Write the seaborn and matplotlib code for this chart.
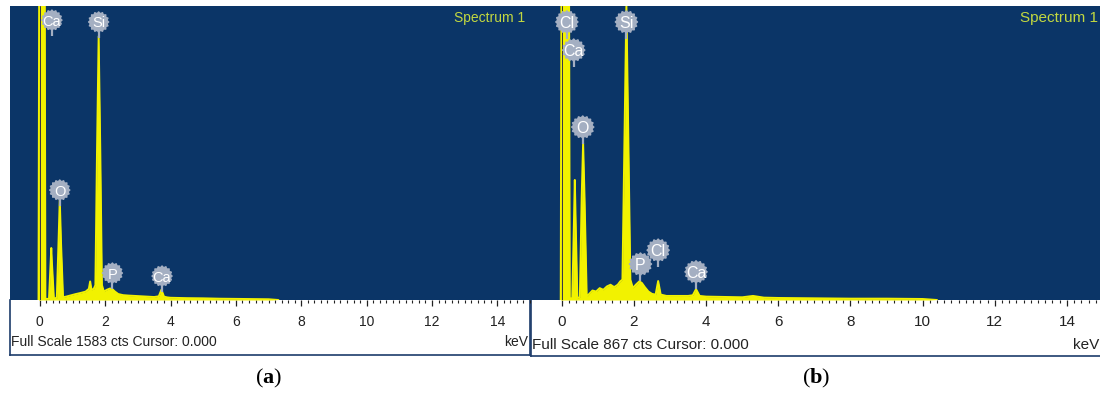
import numpy as np
import pandas as pd
import matplotlib
matplotlib.use("Agg")
import matplotlib.pyplot as plt
from matplotlib.path import Path
import seaborn as sns

# ---------------- spectrum data (keV, counts) ----------------
energy_a = [-0.04, -0.02, 0.15, 0.17, 0.28, 0.33, 0.35, 0.37, 0.43, 0.52, 0.57, 0.61,
            0.65, 0.71, 0.80, 0.95, 1.10, 1.25, 1.40, 1.50, 1.54, 1.58, 1.65, 1.70,
            1.75, 1.80, 1.85, 1.90, 1.96, 2.05, 2.15, 2.22, 2.30, 2.40, 2.55, 2.70,
            2.90, 3.10, 3.30, 3.50, 3.64, 3.72, 3.80, 3.90, 4.00, 4.50, 5.00, 5.50,
            6.00, 6.50, 7.00, 7.30]
counts_a = [0, 1700, 1700, 6, 6, 200, 280, 200, 8, 12, 300, 540,
            300, 15, 18, 25, 32, 38, 45, 60, 100, 55, 60, 80,
            800, 1420, 800, 80, 45, 55, 62, 58, 45, 32, 26, 24,
            22, 20, 18, 16, 20, 55, 18, 14, 12, 10, 9, 7,
            6, 5, 4, 0]

energy_b = [-0.03, -0.01, 0.20, 0.22, 0.29, 0.34, 0.36, 0.38, 0.43, 0.50, 0.55, 0.59,
            0.63, 0.69, 0.76, 0.85, 0.95, 1.05, 1.15, 1.25, 1.35, 1.45, 1.55, 1.62,
            1.68, 1.74, 1.79, 1.84, 1.90, 1.97, 2.05, 2.15, 2.22, 2.30, 2.40, 2.50,
            2.60, 2.67, 2.74, 2.90, 3.10, 3.30, 3.50, 3.63, 3.72, 3.82, 4.00, 4.50,
            5.00, 5.30, 5.60, 6.00, 7.00, 8.00, 9.00, 10.00, 10.40]
counts_b = [0, 950, 950, 5, 5, 250, 354, 250, 6, 8, 300, 463,
            300, 10, 18, 28, 25, 35, 30, 40, 45, 38, 45, 55,
            60, 500, 870, 500, 60, 35, 45, 55, 50, 38, 25, 18,
            16, 56, 16, 12, 12, 12, 12, 14, 32, 12, 10, 9,
            8, 12, 7, 6, 5, 4, 4, 3, 0]

full_scale_a = 1583
full_scale_b = 867
cursor_kev = 0.000

# element markers: name, energy (keV), marker height (counts)
elem_a = ["Ca", "Si", "O", "P", "Ca"]
elem_kev_a = [0.37, 1.80, 0.61, 2.22, 3.74]
elem_y_a = [1507, 1497, 592, 145, 129]

elem_b = ["Cl", "Ca", "Si", "O", "P", "Cl", "Ca"]
elem_kev_b = [0.14, 0.33, 1.79, 0.58, 2.18, 2.67, 3.72]
elem_y_b = [820, 737, 820, 510, 106, 147, 83]

tick_values = [0, 2, 4, 6, 8, 10, 12, 14]
tick_labels = ["0", "2", "4", "6", "8", "10", "12", "14"]

# ---------------- style ----------------
sns.set_theme(style="white")
plt.rcParams["font.family"] = ["Liberation Sans", "DejaVu Sans"]
plt.rcParams["mathtext.fontset"] = "custom"
plt.rcParams["mathtext.rm"] = "Liberation Serif"
plt.rcParams["mathtext.bf"] = "Liberation Serif:bold"

BLUE = "#0b3567"
YELLOW = "#f2f200"
LABEL_GREY = "#a4afc2"
FRAME = "#1d3c6b"
TITLE_GREEN = "#c2d840"

W, H = 1100, 394
fig = plt.figure(figsize=(W / 100, H / 100), dpi=100)


def box(x0, y0, x1, y1):
    return [x0 / W, 1 - y1 / H, (x1 - x0) / W, (y1 - y0) / H]


def fpos(x, y):
    return x / W, 1 - y / H


# scalloped badge outline
theta = np.linspace(0, 2 * np.pi, 97)
rad = 1 + 0.07 * np.cos(16 * theta)
badge = Path(np.column_stack([rad * np.cos(theta), rad * np.sin(theta)]), closed=True)


def draw_panel(spec_box, strip_box, xlim, energy, counts, full_scale,
               names, kev, ys, fs, badge_px, scale_text, kev_right, text_y,
               title_right, caption, caption_x):
    # white scale strip with frame
    ax_s = fig.add_axes(box(*strip_box))
    ax_s.set_facecolor("white")
    ax_s.set_xticks([])
    ax_s.set_yticks([])
    for sp in ax_s.spines.values():
        sp.set_color(FRAME)
        sp.set_linewidth(1.2)
    ax_s.spines["top"].set_visible(False)

    ax = fig.add_axes(box(*spec_box))
    ax.set_zorder(3)
    ax.set_facecolor(BLUE)
    df = pd.DataFrame({"Energy (keV)": energy, "Counts": counts})
    sns.lineplot(data=df, x="Energy (keV)", y="Counts", ax=ax, color=YELLOW,
                 lw=1.4, sort=False, estimator=None)
    ax.fill_between(df["Energy (keV)"], df["Counts"], color=YELLOW, lw=0)
    ax.axvline(cursor_kev, color="#33334a", lw=0.7, zorder=4)
    ax.set_xlim(*xlim)
    ax.set_ylim(0, full_scale)
    ax.set_xlabel("")
    ax.set_ylabel("")
    ax.set_yticks([])
    for sp in ax.spines.values():
        sp.set_visible(False)

    ax.set_xticks(tick_values)
    ax.set_xticklabels(tick_labels, fontsize=fs, color="#222222")
    ax.set_xticks(np.arange(0, 15.01, 0.2), minor=True)
    ax.tick_params(axis="x", which="major", direction="out", length=4, width=0.9,
                   color="#222222", pad=7, bottom=True)
    ax.tick_params(axis="x", which="minor", direction="out", length=2.2, width=0.8,
                   color="#222222", bottom=True)

    # element badges
    px_per_count = (spec_box[3] - spec_box[1]) / full_scale
    for name, x, y in zip(names, kev, ys):
        stem = badge_px * 0.75 / px_per_count
        ax.plot([x, x], [y, y - stem], color=LABEL_GREY, lw=1.6, zorder=5,
                solid_capstyle="butt")
        ax.scatter([x], [y], marker=badge, s=(badge_px * 0.74) ** 2, color=LABEL_GREY,
                   edgecolor="none", zorder=6)
        ax.text(x, y, name, ha="center", va="center_baseline", color="white",
                fontsize=fs + 0.5, zorder=7)

    fig.text(*fpos(title_right, 18), "Spectrum 1", ha="right", va="center",
             color=TITLE_GREEN, fontsize=fs)
    fig.text(*fpos(strip_box[0] + 1, text_y), scale_text, ha="left", va="center",
             color="#222222", fontsize=fs)
    fig.text(*fpos(kev_right, text_y), "keV", ha="right", va="center",
             color="#222222", fontsize=fs)
    fig.text(*fpos(caption_x, 378), caption, ha="center", va="center",
             fontsize=16, family="Liberation Serif", color="black")


draw_panel((10, 6, 530, 300), (10, 300, 530, 355), (-0.913, 14.91),
           energy_a, counts_a, full_scale_a, elem_a, elem_kev_a, elem_y_a,
           10, 21, f"Full Scale {full_scale_a} cts Cursor: {cursor_kev:.3f}",
           528, 342, 525, r"($\mathbf{a}$)", 269)

draw_panel((530, 6, 1103, 300), (531, 300, 1104, 356), (-0.882, 14.91),
           energy_b, counts_b, full_scale_b, elem_b, elem_kev_b, elem_y_b,
           11, 23, f"Full Scale {full_scale_b} cts Cursor: {cursor_kev:.3f}",
           1099, 345, 1098, r"($\mathbf{b}$)", 816)

fig.savefig("out.png", dpi=100, facecolor="white")
